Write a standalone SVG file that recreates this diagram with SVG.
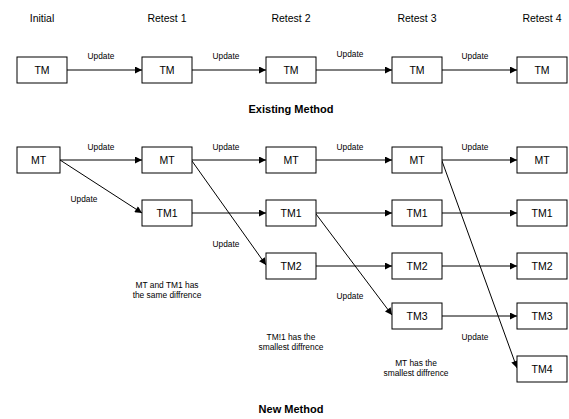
<svg xmlns="http://www.w3.org/2000/svg" width="569" height="419" viewBox="0 0 569 419">
<style>
text{font-family:"Liberation Sans",Arial,sans-serif;fill:#000}
.box rect{fill:#fff;stroke:#000;stroke-width:1}
.box text{font-size:10.5px;text-anchor:middle}
.hdr{font-size:10.5px;text-anchor:middle}
.lbl{font-size:8.3px;text-anchor:middle}
.note{font-size:8.4px;text-anchor:middle}
.ttl{font-size:11px;font-weight:bold;text-anchor:middle}
#connectors line{stroke:#000;stroke-width:1;fill:none;marker-end:url(#ah)}
</style>
<defs>
<marker id="ah" viewBox="0 0 10 10" refX="10" refY="5" markerWidth="8" markerHeight="7" markerUnits="userSpaceOnUse" orient="auto">
<path d="M0,0 L10,5 L0,10 z" fill="#000"/>
</marker>
</defs>
<rect width="569" height="419" fill="#fff"/>
<g id="headers">
<text class="hdr" x="42" y="22">Initial</text>
<text class="hdr" x="167" y="22">Retest 1</text>
<text class="hdr" x="291" y="22">Retest 2</text>
<text class="hdr" x="417" y="22">Retest 3</text>
<text class="hdr" x="542" y="22">Retest 4</text>
</g>
<g id="connectors">
<line x1="67" y1="70" x2="142" y2="70"/>
<line x1="192" y1="70" x2="266" y2="70"/>
<line x1="316" y1="70" x2="392" y2="70"/>
<line x1="442" y1="70" x2="517" y2="70"/>
<line x1="60" y1="160" x2="142" y2="160"/>
<line x1="60" y1="160" x2="142" y2="213"/>
<line x1="192" y1="160" x2="266" y2="160"/>
<line x1="192" y1="161" x2="266" y2="265"/>
<line x1="192" y1="213" x2="266" y2="213"/>
<line x1="316" y1="160" x2="392" y2="160"/>
<line x1="316" y1="213" x2="392" y2="213"/>
<line x1="316" y1="214" x2="392" y2="315"/>
<line x1="316" y1="266" x2="392" y2="266"/>
<line x1="442" y1="160" x2="517" y2="160"/>
<line x1="442" y1="161" x2="517" y2="368"/>
<line x1="442" y1="213" x2="517" y2="213"/>
<line x1="442" y1="266" x2="517" y2="266"/>
<line x1="442" y1="316" x2="517" y2="316"/>
</g>
<g id="labels">
<text class="lbl" x="101" y="59">Update</text>
<text class="lbl" x="226" y="59">Update</text>
<text class="lbl" x="350" y="57">Update</text>
<text class="lbl" x="475" y="59">Update</text>
<text class="lbl" x="101" y="150">Update</text>
<text class="lbl" x="226" y="150">Update</text>
<text class="lbl" x="350" y="150">Update</text>
<text class="lbl" x="475" y="150">Update</text>
<text class="lbl" x="84" y="202">Update</text>
<text class="lbl" x="226" y="247">Update</text>
<text class="lbl" x="350" y="299">Update</text>
<text class="lbl" x="475" y="340">Update</text>
<text class="note" x="167" y="288">MT and TM1 has</text>
<text class="note" x="167" y="298">the same diffrence</text>
<text class="note" x="291" y="340">TM!1 has the</text>
<text class="note" x="291" y="350">smallest diffrence</text>
<text class="note" x="416" y="366">MT has the</text>
<text class="note" x="416" y="376">smallest diffrence</text>
<text class="ttl" x="291" y="113">Existing Method</text>
<text class="ttl" x="291" y="413">New Method</text>
</g>
<g id="tm0" class="box"><rect x="17" y="57" width="50" height="26"/><text x="42" y="74">TM</text></g>
<g id="tm1" class="box"><rect x="142" y="57" width="50" height="26"/><text x="167" y="74">TM</text></g>
<g id="tm2" class="box"><rect x="266" y="57" width="50" height="26"/><text x="291" y="74">TM</text></g>
<g id="tm3" class="box"><rect x="392" y="57" width="50" height="26"/><text x="417" y="74">TM</text></g>
<g id="tm4" class="box"><rect x="517" y="57" width="50" height="26"/><text x="542" y="74">TM</text></g>
<g id="mt0" class="box"><rect x="17" y="147" width="43" height="26"/><text x="38.5" y="164">MT</text></g>
<g id="mt1" class="box"><rect x="142" y="147" width="50" height="26"/><text x="167" y="164">MT</text></g>
<g id="mt2" class="box"><rect x="266" y="147" width="50" height="26"/><text x="291" y="164">MT</text></g>
<g id="mt3" class="box"><rect x="392" y="147" width="50" height="26"/><text x="417" y="164">MT</text></g>
<g id="mt4" class="box"><rect x="517" y="147" width="50" height="26"/><text x="542" y="164">MT</text></g>
<g id="tm1_1" class="box"><rect x="142" y="200" width="50" height="26"/><text x="167" y="217">TM1</text></g>
<g id="tm1_2" class="box"><rect x="266" y="200" width="50" height="26"/><text x="291" y="217">TM1</text></g>
<g id="tm1_3" class="box"><rect x="392" y="200" width="50" height="26"/><text x="417" y="217">TM1</text></g>
<g id="tm1_4" class="box"><rect x="517" y="200" width="50" height="26"/><text x="542" y="217">TM1</text></g>
<g id="tm2_2" class="box"><rect x="266" y="253" width="50" height="26"/><text x="291" y="270">TM2</text></g>
<g id="tm2_3" class="box"><rect x="392" y="253" width="50" height="26"/><text x="417" y="270">TM2</text></g>
<g id="tm2_4" class="box"><rect x="517" y="253" width="50" height="26"/><text x="542" y="270">TM2</text></g>
<g id="tm3_3" class="box"><rect x="392" y="303" width="50" height="26"/><text x="417" y="320">TM3</text></g>
<g id="tm3_4" class="box"><rect x="517" y="303" width="50" height="26"/><text x="542" y="320">TM3</text></g>
<g id="tm4_4" class="box"><rect x="517" y="356" width="50" height="26"/><text x="542" y="373">TM4</text></g>
</svg>
